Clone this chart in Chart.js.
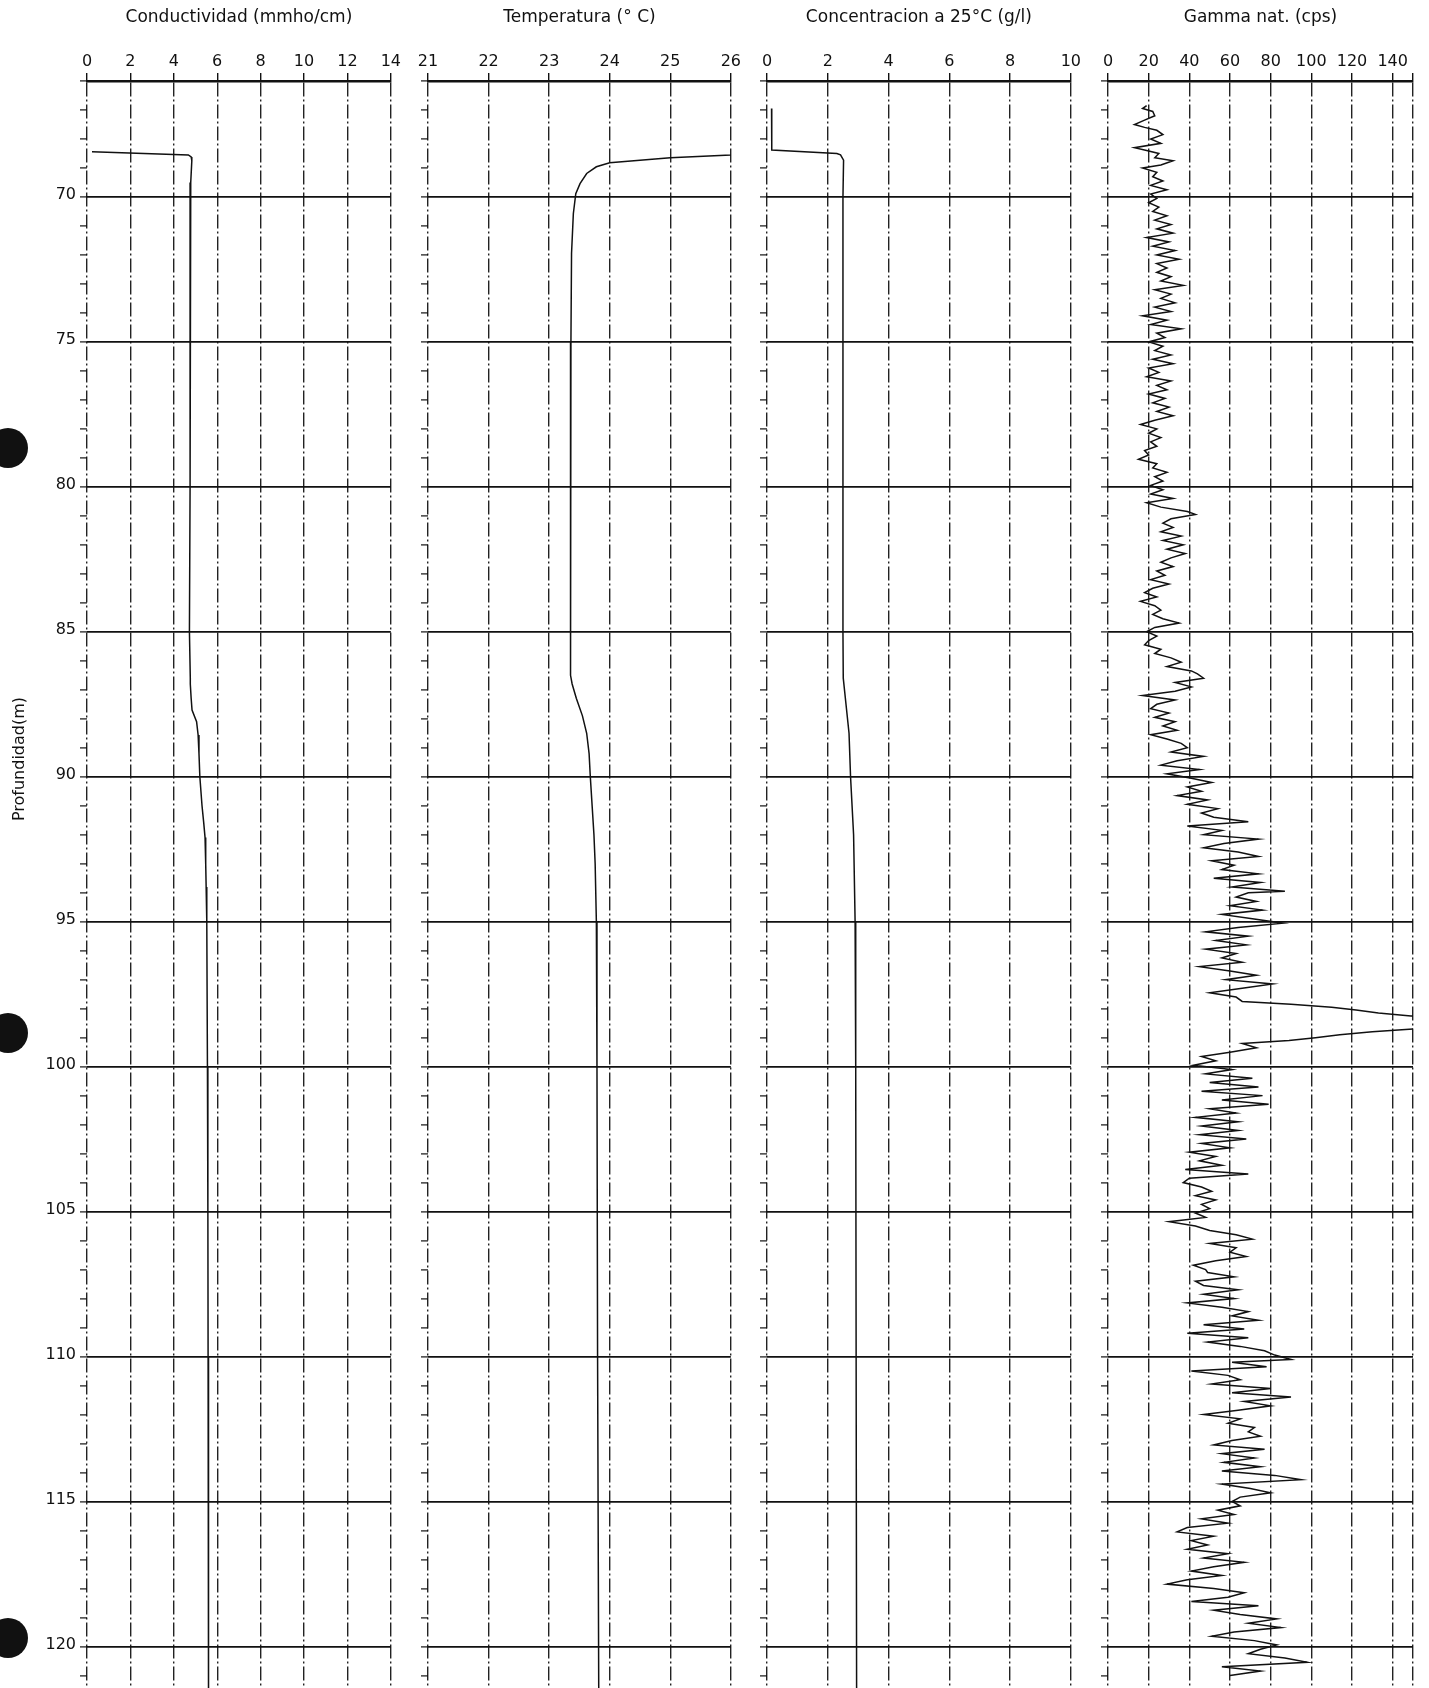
<!DOCTYPE html>
<html>
<head>
<meta charset="utf-8">
<title>Registro de pozo</title>
<script src="https://cdn.jsdelivr.net/npm/chart.js@4.4.1/dist/chart.umd.min.js"></script>
<style>
    html, body {
        margin: 0;
        padding: 0;
        background: #fff;
        width: 1429px;
        height: 1688px;
        overflow: hidden;
    }
    .log-panel {
        position: absolute;
        top: 0;
        height: 1718px;
    }
    .depth-title {
        position: absolute;
        left: 18px;
        top: 759px;
        transform: translate(-50%, -50%) rotate(-90deg);
        font: 16px "DejaVu Sans", sans-serif;
        color: #111;
        white-space: nowrap;
    }
    .punch {
        position: absolute;
        width: 40px;
        height: 40px;
        border-radius: 50%;
        background: #111;
    }
</style>
</head>
<body>
<div id="logs"></div>
<div class="depth-title">Profundidad(m)</div>
<div class="punch" style="left:-12px; top:428px;"></div>
<div class="punch" style="left:-12px; top:1013px;"></div>
<div class="punch" style="left:-12px; top:1618px;"></div>
<script>
// tick labels of each track
const condTicks = [0, 2, 4, 6, 8, 10, 12, 14];
const tempTicks = [21, 22, 23, 24, 25, 26];
const concTicks = [0, 2, 4, 6, 8, 10];
const gammaTicks = [0, 20, 40, 60, 80, 100, 120, 140];
const depthMajor = [70, 75, 80, 85, 90, 95, 100, 105, 110, 115, 120];

// Conductividad (mmho/cm)
const condDepth = [68.44, 68.55, 68.62, 68.75, 69.5, 70, 75, 80, 85, 86.6, 86.8, 87.3, 87.7, 88.1, 88.56, 89.2, 90, 91, 91.6, 92.1, 93, 93.8, 95, 100, 105, 110, 115, 122];
const condValue = [0.23, 4.67, 4.8, 4.83, 4.78, 4.75, 4.75, 4.75, 4.72, 4.76, 4.76, 4.8, 4.84, 5.05, 5.12, 5.16, 5.2, 5.3, 5.38, 5.44, 5.47, 5.49, 5.52, 5.55, 5.57, 5.58, 5.6, 5.6];

// Temperatura (° C)
const tempDepth = [68.5, 68.55, 68.65, 68.82, 68.96, 69.19, 69.54, 69.89, 70.57, 71.95, 75, 80, 85, 86.5, 86.8, 87.3, 87.9, 88.5, 89.2, 90, 91, 92, 93, 95, 100, 110, 122];
const tempValue = [26.3, 26.0, 25.0, 24.0, 23.78, 23.62, 23.51, 23.44, 23.4, 23.37, 23.36, 23.35, 23.35, 23.36, 23.38, 23.45, 23.55, 23.62, 23.66, 23.68, 23.71, 23.74, 23.76, 23.78, 23.79, 23.8, 23.82];

// Concentracion a 25°C (g/l)
const concDepth = [66.95, 67.3, 68.0, 68.38, 68.5, 68.55, 68.73, 70, 80, 85, 86.6, 87.5, 88.5, 90, 92, 95, 100, 122];
const concValue = [0.15, 0.15, 0.16, 0.16, 2.3, 2.42, 2.52, 2.5, 2.5, 2.5, 2.51, 2.6, 2.7, 2.75, 2.85, 2.9, 2.92, 2.95];

// Gamma nat. (cps)
const gammaDepth = [
    66.85, 66.95, 67.05, 67.2, 67.35, 67.5, 67.6, 67.7, 67.85, 68.0, 68.15, 68.3, 68.4, 68.5, 68.65, 68.75, 68.9, 69.0, 69.15, 69.3, 69.45, 69.6, 69.75, 69.9,
    70.05, 70.2, 70.35, 70.5, 70.65, 70.8, 70.95, 71.1, 71.25, 71.4, 71.55, 71.7, 71.85, 72.0, 72.15, 72.3, 72.45, 72.6, 72.75, 72.9,
    73.05, 73.2, 73.35, 73.5, 73.65, 73.8, 73.95, 74.1, 74.25, 74.4, 74.55, 74.7, 74.85, 75.0, 75.15, 75.3, 75.45, 75.6, 75.75, 75.9,
    76.05, 76.2, 76.35, 76.5, 76.65, 76.8, 76.95, 77.1, 77.25, 77.4, 77.55, 77.7, 77.85, 78.0, 78.15, 78.3, 78.45, 78.6, 78.75, 78.9,
    79.05, 79.2, 79.35, 79.5, 79.65, 79.8, 79.95, 80.1, 80.25, 80.4, 80.55, 80.7, 80.85, 80.95, 81.1, 81.25, 81.4, 81.55, 81.7, 81.85,
    82.0, 82.15, 82.3, 82.45, 82.6, 82.75, 82.9, 83.05, 83.2, 83.35, 83.5, 83.65, 83.8, 83.95, 84.1, 84.25, 84.4, 84.55, 84.7, 84.85,
    85.0, 85.15, 85.3, 85.45, 85.6, 85.75, 85.9, 86.05, 86.2, 86.35, 86.45, 86.6, 86.75, 86.9, 87.05, 87.2, 87.35, 87.5, 87.65, 87.8,
    87.95, 88.1, 88.25, 88.4, 88.55, 88.7, 88.85, 89.0, 89.15, 89.3, 89.45, 89.6, 89.75, 89.9, 90.05, 90.2, 90.35, 90.5, 90.65, 90.8,
    90.95, 91.1, 91.25, 91.4, 91.55, 91.7, 91.85, 92.0, 92.15, 92.3, 92.45, 92.6, 92.75, 92.9, 93.05, 93.2, 93.35, 93.5, 93.65, 93.8,
    93.95, 94.0, 94.15, 94.3, 94.45, 94.6, 94.75, 94.9, 95.05, 95.2, 95.35, 95.5, 95.65, 95.8, 95.95, 96.1, 96.25, 96.4, 96.55, 96.7,
    96.85, 97.0, 97.15, 97.3, 97.45, 97.6, 97.75, 97.85, 97.95, 98.05, 98.15, 98.25, 98.4, 98.55, 98.7, 98.8, 98.9, 99.0, 99.1, 99.2,
    99.35, 99.5, 99.65, 99.8, 99.95, 100.1, 100.25, 100.4, 100.55, 100.7, 100.85, 101.0, 101.15, 101.3, 101.45, 101.6, 101.75, 101.9, 102.05, 102.2,
    102.35, 102.5, 102.65, 102.8, 102.95, 103.1, 103.25, 103.4, 103.55, 103.7, 103.85, 104.0, 104.15, 104.3, 104.45, 104.6, 104.75, 104.9, 105.05, 105.2,
    105.35, 105.5, 105.65, 105.8, 105.95, 106.1, 106.25, 106.4, 106.55, 106.7, 106.85, 107.0, 107.1, 107.25, 107.4, 107.55, 107.7, 107.85, 108.0, 108.15,
    108.3, 108.45, 108.6, 108.75, 108.9, 109.05, 109.2, 109.35, 109.5, 109.65, 109.8, 109.95, 110.1, 110.2, 110.35, 110.5, 110.65, 110.8, 110.95, 111.1,
    111.25, 111.4, 111.55, 111.7, 111.85, 112.0, 112.15, 112.3, 112.45, 112.6, 112.75, 112.9, 113.05, 113.2, 113.35, 113.5, 113.65, 113.8, 113.95, 114.1,
    114.25, 114.4, 114.55, 114.7, 114.85, 115.0, 115.15, 115.3, 115.45, 115.6, 115.75, 115.9, 116.05, 116.2, 116.35, 116.5, 116.65, 116.8, 116.95, 117.1,
    117.25, 117.4, 117.55, 117.7, 117.85, 118.0, 118.15, 118.3, 118.45, 118.6, 118.75, 118.9, 119.05, 119.2, 119.35, 119.5, 119.65, 119.8, 119.95, 120.1,
    120.25, 120.4, 120.55, 120.7, 120.85, 121.0
];
const gammaCps = [
    19, 17, 22, 23, 18, 13, 18, 24, 27, 21, 26, 13, 19, 25, 23, 32, 26, 17, 24, 22, 27, 21, 29, 21,
    24, 20, 25, 22, 29, 23, 31, 24, 32, 19, 30, 22, 33, 24, 35, 24, 29, 24, 31, 26,
    37, 23, 31, 26, 33, 23, 31, 17, 29, 21, 36, 24, 28, 20, 27, 23, 31, 22, 32, 20,
    25, 19, 31, 24, 29, 20, 28, 22, 30, 24, 32, 23, 16, 24, 20, 26, 21, 24, 18, 20,
    15, 24, 22, 29, 23, 27, 21, 27, 21, 32, 19, 26, 39, 43, 31, 27, 32, 26, 36, 27,
    37, 29, 38, 31, 26, 32, 24, 28, 21, 30, 22, 18, 24, 16, 23, 26, 22, 27, 35, 23,
    19, 24, 20, 18, 26, 23, 31, 36, 29, 41, 44, 47, 33, 41, 33, 17, 33, 24, 21, 30,
    23, 33, 27, 34, 21, 29, 36, 39, 31, 47, 34, 26, 45, 29, 41, 51, 39, 46, 34, 49,
    39, 54, 46, 52, 69, 39, 56, 47, 74, 57, 47, 64, 74, 51, 62, 56, 74, 52, 75, 61,
    87, 69, 63, 73, 60, 76, 56, 71, 86, 64, 48, 69, 53, 68, 48, 63, 56, 66, 45, 60,
    73, 58, 81, 66, 50, 63, 66, 90, 110, 122, 133, 149, 175, 178, 150, 130, 114, 102, 89, 66,
    73, 60, 46, 53, 42, 61, 48, 71, 50, 74, 46, 76, 56, 79, 50, 63, 43, 64, 46, 64,
    45, 68, 46, 60, 40, 53, 45, 56, 38, 69, 40, 37, 46, 51, 43, 53, 46, 50, 43, 48,
    30, 43, 50, 63, 71, 50, 63, 60, 68, 53, 42, 48, 49, 62, 43, 47, 64, 47, 62, 39,
    56, 69, 61, 74, 47, 67, 39, 69, 49, 65, 77, 82, 90, 61, 78, 41, 59, 65, 51, 80,
    61, 90, 67, 80, 64, 47, 65, 59, 72, 69, 75, 61, 52, 77, 56, 72, 57, 75, 56, 82,
    95, 56, 70, 80, 65, 61, 65, 54, 62, 46, 59, 39, 34, 52, 41, 49, 39, 59, 47, 67,
    52, 41, 56, 39, 29, 52, 67, 59, 41, 74, 52, 65, 83, 69, 85, 62, 51, 72, 83, 75,
    69, 87, 98, 56, 75, 60
];

const INK = "#111";
const DEPTH_MIN = 66;
const DEPTH_MAX = 122;

Chart.defaults.font.family = '"DejaVu Sans", sans-serif';
Chart.defaults.color = INK;

const panels = [
    { title: "Conductividad (mmho/cm)", left: 87, right: 391, padL: 87, min: 0, max: 14,
      ticks: condTicks, depth: condDepth, values: condValue, depthLabels: true },
    { title: "Temperatura (° C)", left: 428, right: 731, padL: 24, min: 21, max: 26,
      ticks: tempTicks, depth: tempDepth, values: tempValue, depthLabels: false },
    { title: "Concentracion a 25°C (g/l)", left: 767, right: 1071, padL: 24, min: 0, max: 10,
      ticks: concTicks, depth: concDepth, values: concValue, depthLabels: false },
    { title: "Gamma nat. (cps)", left: 1108, right: 1413, padL: 24, min: 0, max: 150,
      ticks: gammaTicks, depth: gammaDepth, values: gammaCps, depthLabels: false }
];

function renderPanel(container, panel) {
    const padR = 12;
    const wrap = document.createElement("div");
    wrap.className = "log-panel";
    wrap.style.left = (panel.left - panel.padL) + "px";
    wrap.style.width = (panel.padL + (panel.right - panel.left) + padR) + "px";
    const canvas = document.createElement("canvas");
    wrap.appendChild(canvas);
    container.appendChild(wrap);

    // the right edge of the track gets a grid line even when it has no label
    const gridTicks = panel.ticks.includes(panel.max) ? panel.ticks : panel.ticks.concat([panel.max]);

    new Chart(canvas, {
        type: "line",
        data: {
            datasets: [{
                data: panel.depth.map((d, i) => ({ x: panel.values[i], y: d })),
                borderColor: INK,
                borderWidth: 1.5,
                pointRadius: 0,
                tension: 0,
                fill: false
            }]
        },
        options: {
            indexAxis: "y",
            responsive: true,
            maintainAspectRatio: false,
            animation: false,
            layout: {
                autoPadding: false,
                padding: { left: 0, right: padR, top: 0, bottom: 0 }
            },
            plugins: {
                legend: { display: false },
                tooltip: { enabled: false },
                title: {
                    display: true,
                    fullSize: false,
                    text: panel.title,
                    color: INK,
                    font: { size: 17, weight: "normal", lineHeight: 1.2 },
                    padding: { top: 7, bottom: 0 }
                }
            },
            scales: {
                x: {
                    type: "linear",
                    position: "top",
                    min: panel.min,
                    max: panel.max,
                    afterBuildTicks: (scale) => {
                        scale.ticks = gridTicks.map((v) => ({ value: v }));
                    },
                    afterFit: (scale) => {
                        scale.height = 81 - 27.4;
                    },
                    ticks: {
                        font: { size: 16 },
                        padding: 2,
                        maxRotation: 0,
                        autoSkip: false,
                        callback: (value) => (panel.ticks.includes(value) ? String(value) : "")
                    },
                    grid: {
                        color: "#222",
                        lineWidth: 1.4,
                        tickColor: INK,
                        tickLength: 8,
                        tickWidth: 1.4
                    },
                    border: {
                        display: true,
                        color: INK,
                        width: 2.4,
                        dash: [14, 3, 2, 3]
                    }
                },
                y: {
                    type: "linear",
                    reverse: true,
                    min: DEPTH_MIN,
                    max: DEPTH_MAX,
                    afterFit: (scale) => {
                        scale.width = panel.padL;
                    },
                    ticks: {
                        stepSize: 1,
                        autoSkip: false,
                        font: { size: 16 },
                        padding: 4,
                        labelOffset: -2,
                        callback: (value) => (panel.depthLabels && depthMajor.includes(value) ? String(value) : "")
                    },
                    grid: {
                        color: (ctx) => (ctx.tick && depthMajor.includes(ctx.tick.value) ? INK : "rgba(0,0,0,0)"),
                        lineWidth: 1.8,
                        tickColor: INK,
                        tickLength: 7,
                        tickWidth: 1.2
                    },
                    border: { display: false }
                }
            }
        }
    });
}

const logs = document.getElementById("logs");
panels.forEach((panel) => renderPanel(logs, panel));
</script>
</body>
</html>
